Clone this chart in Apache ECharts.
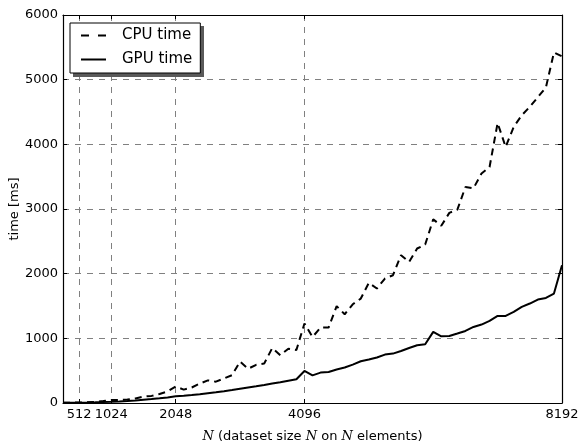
<!DOCTYPE html>
<html>
<head>
<meta charset="utf-8">
<script src="https://cdn.jsdelivr.net/npm/echarts@6/dist/echarts.min.js"></script>
<style>
html,body{margin:0;padding:0;background:#fff;}
#chart{width:578px;height:443px;}
</style>
</head>
<body>
<div id="chart"></div>
<script>
var sizes = [256,384,512,640,768,896,1024,1152,1280,1408,1536,1664,1792,1920,2048,2176,2304,2432,2560,2688,2816,2944,3072,3200,3328,3456,3584,3712,3840,3968,4096,4224,4352,4480,4608,4736,4864,4992,5120,5248,5376,5504,5632,5760,5888,6016,6144,6272,6400,6528,6656,6784,6912,7040,7168,7296,7424,7552,7680,7808,7936,8064,8192];
var cpuTime = [3,5,8,12,18,30,45,45,55,70,100,110,140,180,255,
  207,240,300,350,330,380,430,640,530,590,610,850,740,840,820,
  1230,1020,1166,1166,1497,1372,1527,1615,1857,1770,1925,1976,2286,2182,2389,2450,
  2840,2740,2940,2990,3340,3320,3550,3650,4330,3960,4270,4450,4580,4730,4880,5420,5360];
var gpuTime = [2,3,5,7,10,14,19,25,32,40,50,60,72,85,104,
  112,122,135,150,165,182,200,220,240,258,278,300,322,345,368,
  495,428,470,480,517,548,594,645,672,703,749,764,805,851,893,908,
  1100,1032,1037,1074,1114,1176,1213,1269,1346,1346,1408,1486,1538,1600,1625,1693,2131];
var xTicks = [512,1024,2048,4096,8192];
var seriesNames = ['CPU time','GPU time'];
var xLabel = '{i|N} (dataset size {i|N} on {i|N} elements)';
var yLabel = 'time [ms]';

function pairs(xs, ys){ return xs.map(function(x,k){ return [x, ys[k]]; }); }
function plain(v){ return String(v); }

var font = 'DejaVu Sans';
var cpuDash = [7,5];
var gridLine = {show:true, lineStyle:{color:'#808080', width:1, type:[6,6]}};
var axisLine = {show:true, onZero:false, lineStyle:{color:'#000', width:1.2}};

var chart = echarts.init(document.getElementById('chart'), null, {renderer:'canvas'});
chart.setOption({
  animation:false,
  backgroundColor:'#fff',
  textStyle:{fontFamily:font, color:'#000'},
  grid:{left:63, right:16, top:15, bottom:40, containLabel:false, outerBoundsMode:'none'},
  graphic:[{
    type:'rect', left:73, top:26, z:4, silent:true,
    shape:{width:131, height:51},
    style:{fill:'#5a5a5a'}
  }],
  legend:{
    left:70, top:23, orient:'vertical', z:6,
    data:[
      {name:seriesNames[0], lineStyle:{color:'#000', width:2, type:[8,9]}},
      {name:seriesNames[1], lineStyle:{color:'#000', width:2, type:[1000,0]}}
    ],
    backgroundColor:'#fff', borderColor:'#000', borderWidth:1,
    padding:[4,8,5,10], itemWidth:25, itemHeight:17, itemGap:7,
    itemStyle:{opacity:0, color:'transparent', borderWidth:0},
    textStyle:{fontFamily:font, fontSize:15, color:'#000', padding:[0,0,0,11], lineHeight:17}
  },
  xAxis:[{
    type:'value', position:'bottom', min:256, max:8192,
    axisLine:axisLine,
    axisTick:{show:true, inside:true, length:4, customValues:xTicks, lineStyle:{color:'#000'}},
    axisLabel:{show:true, customValues:xTicks, fontSize:13, color:'#000', margin:5, fontFamily:font, formatter:plain},
    splitLine:gridLine,
    name:xLabel, nameLocation:'middle', nameGap:27,
    nameTextStyle:{fontSize:13, color:'#000', fontFamily:font,
      rich:{i:{fontFamily:'DejaVu Serif', fontStyle:'italic', fontSize:13, color:'#000'}}}
  },{
    type:'value', position:'top', min:256, max:8192,
    axisLine:axisLine,
    axisTick:{show:true, inside:true, length:4, customValues:xTicks, lineStyle:{color:'#000'}},
    axisLabel:{show:false, customValues:xTicks},
    splitLine:{show:false}
  }],
  yAxis:[{
    type:'value', position:'left', min:0, max:6000, interval:1000,
    axisLine:axisLine,
    axisTick:{show:true, inside:true, length:4, lineStyle:{color:'#000'}},
    axisLabel:{fontSize:13, color:'#000', margin:5, fontFamily:font, formatter:plain},
    splitLine:gridLine,
    name:yLabel, nameLocation:'middle', nameGap:42, nameRotate:90, nameMoveOverlap:false,
    nameTextStyle:{fontSize:13, color:'#000', fontFamily:font}
  },{
    type:'value', position:'right', min:0, max:6000, interval:1000,
    axisLine:axisLine,
    axisTick:{show:true, inside:true, length:4, lineStyle:{color:'#000'}},
    axisLabel:{show:false},
    splitLine:{show:false}
  }],
  series:[{
    name:seriesNames[0], type:'line', xAxisIndex:0, yAxisIndex:0,
    data:pairs(sizes, cpuTime), symbol:'none',
    lineStyle:{color:'#000', width:2, type:cpuDash},
    itemStyle:{color:'#000'}
  },{
    name:seriesNames[1], type:'line', xAxisIndex:0, yAxisIndex:0,
    data:pairs(sizes, gpuTime), symbol:'none',
    lineStyle:{color:'#000', width:2, type:'solid'},
    itemStyle:{color:'#000'}
  }]
});
</script>
</body>
</html>
